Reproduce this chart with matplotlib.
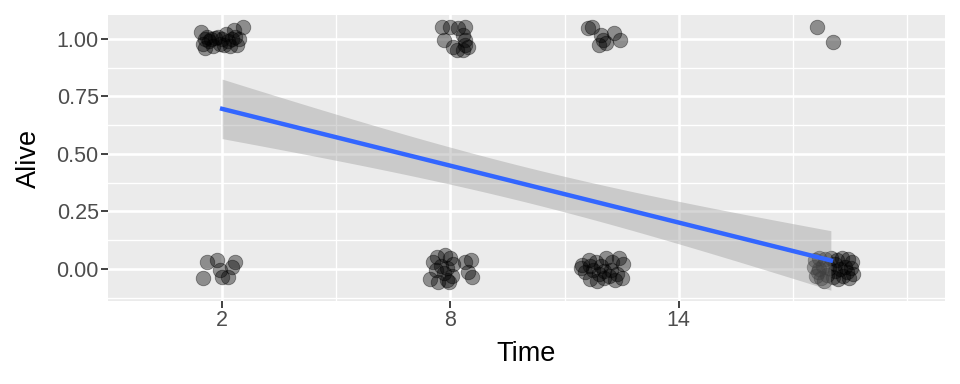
#!/usr/bin/env python3

import numpy as np
import matplotlib
matplotlib.use("Agg")
import matplotlib.pyplot as plt

plt.rcParams["font.family"] = ["Liberation Sans", "DejaVu Sans"]

TIMES = [2, 8, 12, 18]

# jittered points per (time, alive) group: (dx from time, dy from 0/1)
T2_ALIVE = [(-0.55, 0.03), (-0.5, -0.02), (-0.45, -0.04), (-0.4, 0.01), (-0.35, -0.01),
            (-0.3, 0.0), (-0.25, -0.03), (-0.45, 0.0), (-0.1, 0.01), (-0.05, -0.02),
            (0.0, 0.0), (0.05, -0.025), (0.1, 0.02), (0.15, -0.01), (0.2, -0.03),
            (0.25, 0.0), (0.3, 0.04), (0.35, 0.01), (0.4, -0.025), (0.45, 0.0),
            (0.55, 0.05), (-0.2, 0.005)]
T2_DEAD = [(-0.39, 0.03), (-0.13, 0.04), (0.34, 0.03), (0.26, 0.01), (-0.05, -0.004),
           (-0.5, -0.04), (0.0, -0.035), (0.16, -0.035)]
T8_ALIVE = [(-0.21, 0.052), (0.0, 0.052), (0.39, 0.052), (0.21, 0.048), (-0.18, -0.004),
            (0.34, 0.017), (0.39, -0.004), (0.39, -0.026), (0.18, -0.048), (0.34, -0.048),
            (0.47, -0.035), (0.08, -0.035)]
T8_DEAD = [(-0.47, 0.03), (-0.34, 0.052), (-0.13, 0.06), (0.0, 0.048), (-0.39, -0.004),
           (-0.26, 0.013), (-0.08, 0.004), (0.08, 0.022), (-0.53, -0.043), (-0.32, -0.057),
           (-0.1, -0.048), (0.05, -0.03), (-0.18, -0.017), (0.39, 0.03), (0.53, 0.04),
           (0.45, -0.013), (0.58, -0.035), (-0.03, -0.055)]
T12_ALIVE = [(-0.39, 0.048), (-0.29, 0.052), (-0.05, 0.017), (0.0, -0.004), (-0.1, -0.026),
             (0.29, 0.026), (0.47, -0.004), (0.1, -0.017)]
T12_DEAD = [(-0.53, 0.017), (-0.37, 0.04), (-0.18, 0.03), (-0.05, 0.013), (0.1, 0.048),
            (0.26, 0.03), (0.42, 0.048), (0.53, 0.022), (-0.45, -0.013), (-0.26, -0.004),
            (-0.1, -0.022), (0.05, -0.009), (0.21, -0.004), (0.37, -0.022), (0.5, -0.04),
            (-0.34, -0.043), (-0.16, -0.052), (0.03, -0.04), (0.18, -0.03), (-0.32, 0.013),
            (0.32, -0.048), (-0.58, 0.004)]
T18_ALIVE = [(-0.37, 0.052), (0.05, -0.013)]
T18_DEAD = [(-0.42, 0.04), (-0.3, 0.05), (-0.15, 0.045), (0.0, 0.05), (0.15, 0.04),
            (0.3, 0.05), (0.45, 0.045), (0.55, 0.03), (-0.45, 0.01), (-0.32, 0.0),
            (-0.2, 0.015), (-0.05, 0.005), (0.1, 0.02), (0.25, 0.0), (0.38, 0.01),
            (0.52, 0.005), (-0.4, -0.03), (-0.25, -0.04), (-0.1, -0.025), (0.05, -0.035),
            (0.2, -0.045), (0.33, -0.03), (0.48, -0.04), (0.58, -0.02), (-0.35, -0.015),
            (0.12, -0.01), (0.42, -0.015), (-0.18, -0.05)]

GROUPS = [
    (2, 1, T2_ALIVE), (2, 0, T2_DEAD),
    (8, 1, T8_ALIVE), (8, 0, T8_DEAD),
    (12, 1, T12_ALIVE), (12, 0, T12_DEAD),
    (18, 1, T18_ALIVE), (18, 0, T18_DEAD),
]

X_TICKS = [2, 8, 14]
Y_TICKS = [0.0, 0.25, 0.5, 0.75, 1.0]


def main():
    time, alive, xj, yj = [], [], [], []
    for t, a, pts in GROUPS:
        for dx, dy in pts:
            time.append(t)
            alive.append(a)
            xj.append(t + dx)
            yj.append(a + dy)
    time = np.array(time, float)
    alive = np.array(alive, float)

    # linear fit with 95% confidence band (lm on raw data)
    slope, intercept = np.polyfit(time, alive, 1)
    n = len(time)
    resid = alive - (intercept + slope * time)
    sigma = np.sqrt(np.sum(resid ** 2) / (n - 2))
    sxx = np.sum((time - time.mean()) ** 2)
    xs = np.linspace(time.min(), time.max(), 80)
    fit = intercept + slope * xs
    se = sigma * np.sqrt(1 / n + (xs - time.mean()) ** 2 / sxx)
    tval = 1.98

    fig = plt.figure(figsize=(9.6, 3.84), dpi=100)
    ax = fig.add_axes([108 / 960, 83 / 384, 837 / 960, 286 / 384])
    ax.set_facecolor("#EBEBEB")
    for s in ax.spines.values():
        s.set_visible(False)

    ax.set_xlim(-1, 21)
    ax.set_ylim(-0.139, 1.104)
    ax.set_xticks(X_TICKS)
    ax.set_xticklabels([str(v) for v in X_TICKS])
    ax.set_yticks(Y_TICKS)
    ax.set_yticklabels([f"{v:.2f}" for v in Y_TICKS])
    ax.set_xticks([5, 11, 17, 20], minor=True)
    ax.set_yticks([-0.125, 0.125, 0.375, 0.625, 0.875], minor=True)
    ax.grid(True, which="major", color="white", linewidth=1.9)
    ax.grid(True, which="minor", color="white", linewidth=0.95)
    ax.set_axisbelow(True)
    ax.tick_params(which="major", length=4.7, width=1.3, color="#333333",
                   labelsize=15.5, labelcolor="#4D4D4D", pad=2)
    ax.tick_params(which="minor", length=0)

    ax.scatter(xj, yj, s=110, color="black", alpha=0.4, linewidths=0.6,
               edgecolors="black", zorder=3)
    ax.fill_between(xs, fit - tval * se, fit + tval * se, color="#999999",
                    alpha=0.4, linewidth=0, zorder=4)
    ax.plot(xs, fit, color="#3366FF", linewidth=3.2, zorder=5)

    ax.set_xlabel("Time", fontsize=19.5, labelpad=7)
    ax.set_ylabel("Alive", fontsize=19.5, labelpad=10)

    fig.savefig("out.png", dpi=100)
    plt.close(fig)


if __name__ == "__main__":
    main()
